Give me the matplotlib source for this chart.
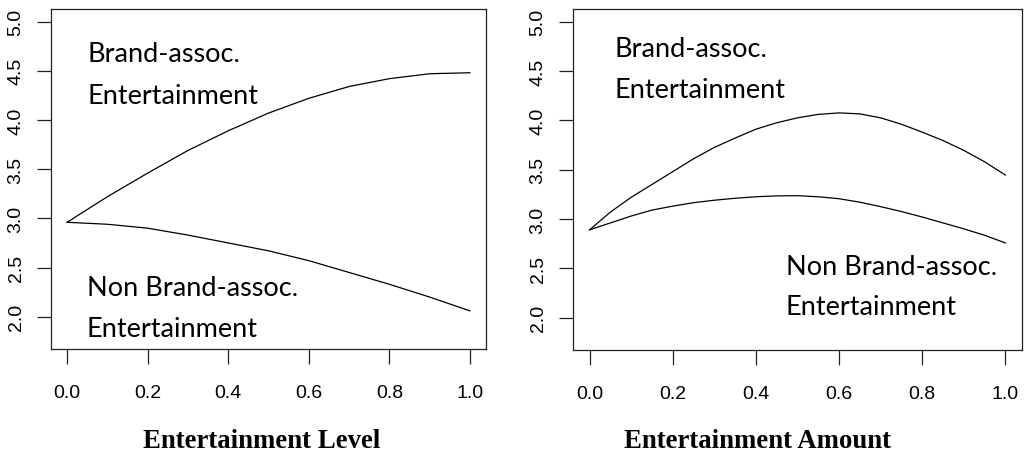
import matplotlib
matplotlib.use('Agg')
import matplotlib.pyplot as plt

# values
x_level = [0.0, 0.1, 0.2, 0.3, 0.4, 0.5, 0.6, 0.7, 0.8, 0.9, 1.0]
brand_level = [2.96, 3.22, 3.46, 3.69, 3.89, 4.07, 4.22, 4.34, 4.42, 4.47, 4.48]
nonbrand_level = [2.96, 2.94, 2.90, 2.83, 2.75, 2.67, 2.57, 2.45, 2.33, 2.20, 2.06]

x_amount = [0.0, 0.05, 0.1, 0.15, 0.2, 0.25, 0.3, 0.35, 0.4, 0.45, 0.5,
            0.55, 0.6, 0.65, 0.7, 0.75, 0.8, 0.85, 0.9, 0.95, 1.0]
brand_amount = [2.89, 3.07, 3.22, 3.35, 3.48, 3.61, 3.725, 3.82, 3.91, 3.975, 4.025,
                4.06, 4.075, 4.065, 4.025, 3.96, 3.88, 3.795, 3.695, 3.58, 3.445]
nonbrand_amount = [2.89, 2.96, 3.03, 3.09, 3.13, 3.165, 3.19, 3.21, 3.225, 3.234, 3.236,
                   3.225, 3.205, 3.17, 3.125, 3.075, 3.02, 2.96, 2.90, 2.835, 2.757]

x_ticks = [0.0, 0.2, 0.4, 0.6, 0.8, 1.0]
y_ticks = [2.0, 2.5, 3.0, 3.5, 4.0, 4.5, 5.0]

W, H = 1025, 456
fig = plt.figure(figsize=(W / 100, H / 100), dpi=100)
ax1 = fig.add_axes([51 / W, 1 - 350 / H, 435 / W, 340 / H])
ax2 = fig.add_axes([573 / W, 1 - 351 / H, 449 / W, 341 / H])

note_font = dict(family=['Lato', 'DejaVu Sans'], fontsize=19.5, color='black', va='baseline')


def style(ax):
    ax.set_xlim(-0.04, 1.04)
    ax.set_ylim(1.672, 5.128)
    ax.set_xticks(x_ticks, labels=[f'{t:.1f}' for t in x_ticks])
    ax.set_yticks(y_ticks, labels=[f'{t:.1f}' for t in y_ticks])
    ax.tick_params(axis='x', length=11, width=0.9, pad=14, labelsize=14, color='#222222')
    ax.tick_params(axis='y', length=10, width=0.9, pad=9, labelsize=14, labelrotation=90,
                   color='#222222')
    for lab in ax.get_xticklabels() + ax.get_yticklabels():
        lab.set_family(['Liberation Sans', 'DejaVu Sans'])
    for lab in ax.get_yticklabels():
        lab.set_va('center')
    for s in ax.spines.values():
        s.set_linewidth(0.9)
        s.set_color('#222222')


ax1.plot(x_level, brand_level, color='black', lw=0.9)
ax1.plot(x_level, nonbrand_level, color='black', lw=0.9)
style(ax1)
ax1.text(0.051, 4.60, 'Brand-assoc.', **note_font)
ax1.text(0.051, 4.17, 'Entertainment', **note_font)
ax1.text(0.049, 2.217, 'Non Brand-assoc.', **note_font)
ax1.text(0.049, 1.80, 'Entertainment', **note_font)

ax2.plot(x_amount, brand_amount, color='black', lw=0.9)
ax2.plot(x_amount, nonbrand_amount, color='black', lw=0.9)
style(ax2)
ax2.text(0.061, 4.655, 'Brand-assoc.', **note_font)
ax2.text(0.061, 4.24, 'Entertainment', **note_font)
ax2.text(0.472, 2.443, 'Non Brand-assoc.', **note_font)
ax2.text(0.472, 2.04, 'Entertainment', **note_font)

label_font = dict(family=['Liberation Serif', 'DejaVu Serif'], fontsize=19.3,
                  fontweight='bold', ha='center', va='baseline')
fig.text(261.5 / W, 1 - 448 / H, 'Entertainment Level', **label_font)
fig.text(757 / W, 1 - 448 / H, 'Entertainment Amount', **label_font)

fig.savefig('out.png', dpi=100)
